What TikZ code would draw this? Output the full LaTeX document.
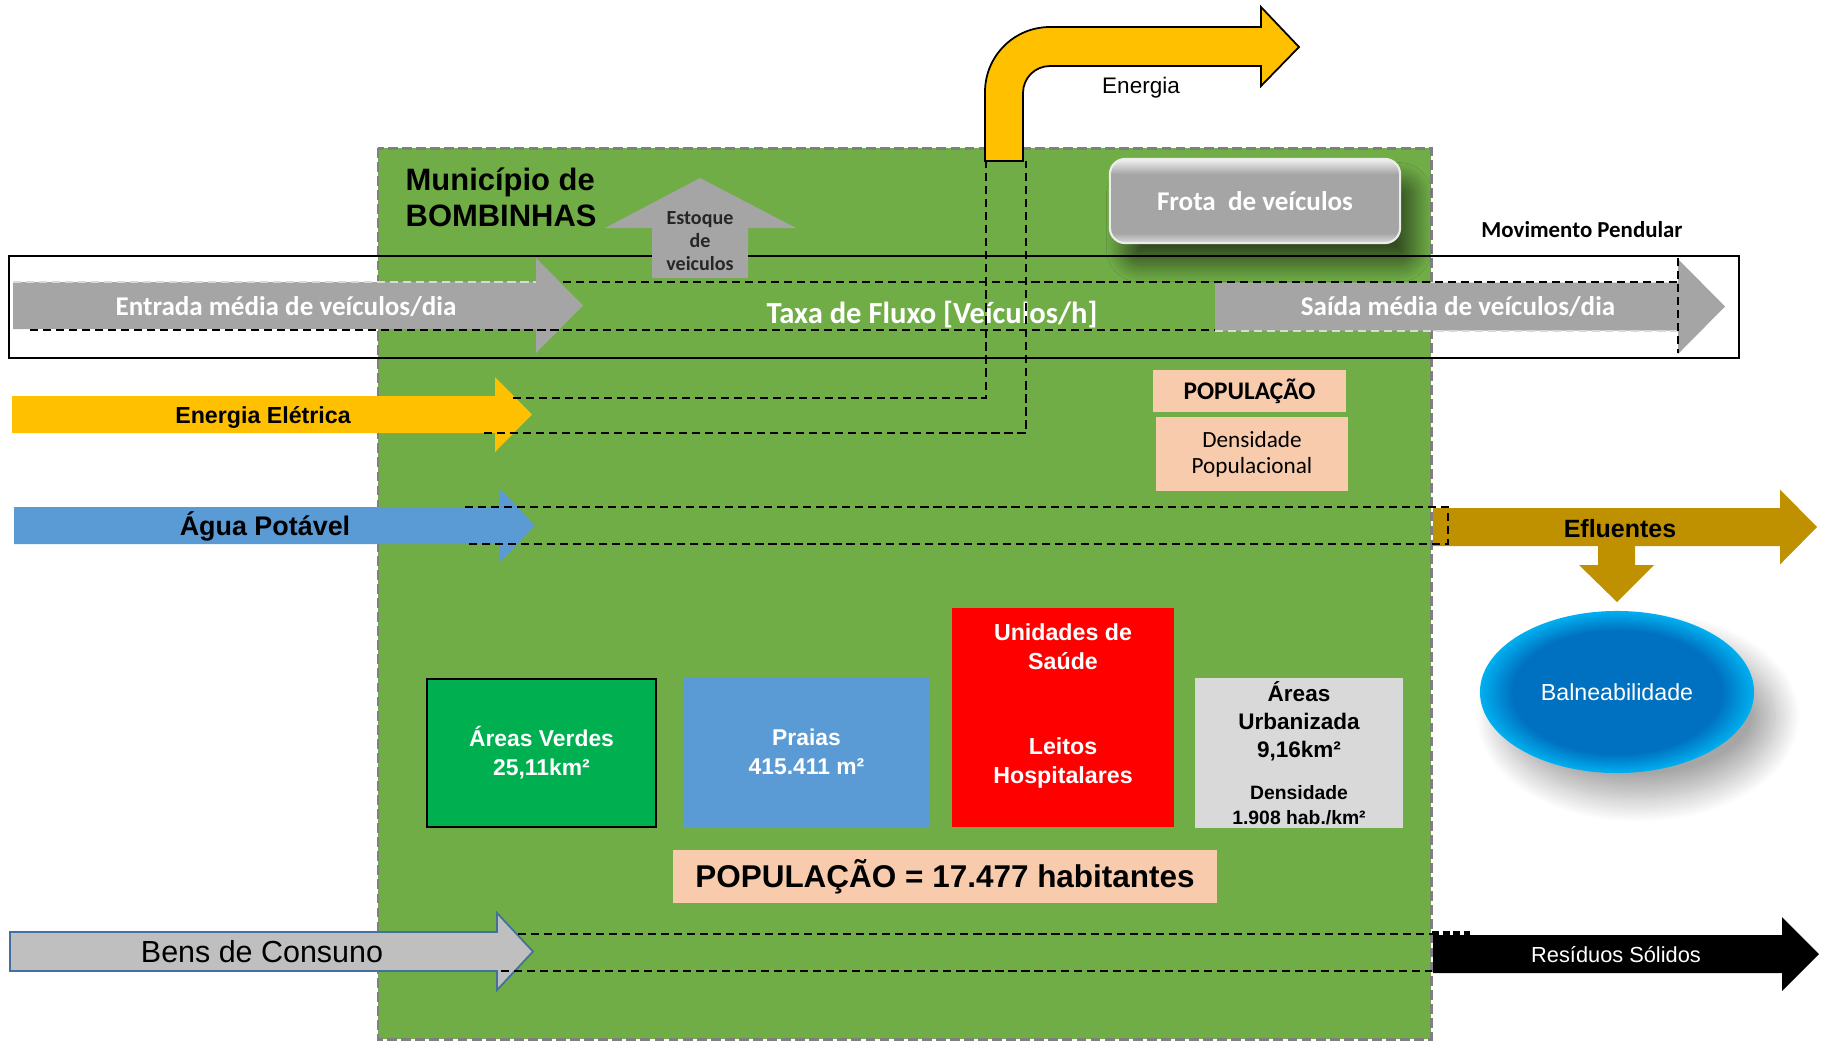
\documentclass[tikz,border=0pt]{standalone}
\usepackage{fontspec}
\setmainfont{Liberation Sans}
\newfontfamily\calibri{Carlito}
\usetikzlibrary{shapes.geometric, shadows.blur}

\definecolor{verde}{HTML}{70AD47}
\definecolor{cinza}{HTML}{A5A5A5}
\definecolor{cinzaborda}{HTML}{7F7F7F}
\definecolor{cinzacl}{HTML}{D9D9D9}
\definecolor{amarelo}{HTML}{FFC000}
\definecolor{azul}{HTML}{5B9BD5}
\definecolor{azulesc}{HTML}{0070C0}
\definecolor{azulcl}{HTML}{00B0F0}
\definecolor{ouro}{HTML}{BF9000}
\definecolor{pele}{HTML}{F8CBAD}
\definecolor{verdeesc}{HTML}{00B050}
\definecolor{bens}{HTML}{BFBFBF}
\definecolor{bensborda}{HTML}{41719C}

\pgfdeclareverticalshading{frotashade}{100bp}{color(0bp)=(gray!30); color(25bp)=(gray!30);
    color(31bp)=(cinza); color(66bp)=(cinza); color(75bp)=(gray!10); color(100bp)=(gray!10)}
\pgfdeclareradialshading{balshade}{\pgfpoint{0bp}{0bp}}{color(0bp)=(azulesc); color(19bp)=(azulesc);
    color(25bp)=(azulcl); color(50bp)=(azulcl)}

\newcommand{\tam}[2]{\fontsize{#1pt}{#2pt}\selectfont}
% seta cheia: estilo, x inicio, x base da ponta, x ponta, y centro, meia haste, meia ponta
\newcommand{\seta}[7]{%
    \path[#1] (#2,#5-#6) -- (#3,#5-#6) -- (#3,#5-#7) -- (#4,#5)
        -- (#3,#5+#7) -- (#3,#5+#6) -- (#2,#5+#6) -- cycle;}

\tikzset{
    rotulo/.style={inner sep=0pt, anchor=base},
    bloco/.style={inner sep=0pt, align=center},
    caixa/.style={inner sep=0pt, align=center},
    tracejado/.style={draw=black, line width=.55pt, dash pattern=on 2.3pt off 1.4pt},
    claro/.style={tracejado, draw=white!70!gray}
}

\begin{document}
\begin{tikzpicture}[x=0.01cm, y=-0.01cm]
        \useasboundingbox (0,0) rectangle (1827,1041);

        % municipio e movimento pendular
        \draw[fill=verde, draw=cinzaborda, line width=.85pt, dash pattern=on 2.8pt off 1.2pt]
            (378,148) rectangle (1431,1039);
        \draw[line width=.8pt] (9,256) rectangle (1739,358);

        \node (frota) [caixa, minimum width=2.9cm, minimum height=.84cm, rounded corners=4.3pt,
            shade, shading=frotashade, draw=gray!15, line width=.6pt,
            blur shadow={shadow xshift=4pt, shadow yshift=-6pt, shadow blur radius=5pt,
                shadow blur steps=20, shadow opacity=55},
            text=white, font=\calibri\bfseries\tam{7.7}{9}] at (1255,201) {Frota~ de veículos};

        % setas
        \seta{fill=cinza}{13}{536}{583}{305.5}{23.5}{47.5}
        \seta{fill=cinza}{1215}{1678}{1725}{306.5}{24}{47.5}
        \seta{fill=amarelo}{12}{495}{532}{414.5}{18.5}{37.5}
        \seta{fill=azul}{14}{499}{535}{525.5}{18.5}{37.5}
        \seta{fill=ouro}{1433}{1780}{1817}{527}{19}{37.5}
        \path[fill=ouro] (1598,540) -- (1635,540) -- (1635,565) -- (1654,565) -- (1617,602)
            -- (1579,565) -- (1598,565) -- cycle;
        \seta{fill=black}{1433}{1782}{1819}{954}{19}{37}
        \seta{fill=bens, draw=bensborda, line width=.5pt}{10}{497}{533}{951.5}{19.5}{38.5}
        \path[fill=cinza] (652,278) -- (652,228) -- (605,228) -- (700,178) -- (796,228)
            -- (748,228) -- (748,278) -- cycle;

        \node (entrada) [rotulo, text=white, font=\calibri\bfseries\tam{7.7}{9}] at (286,315) {Entrada média de veículos/dia};
        \node (saida) [rotulo, text=white, font=\calibri\bfseries\tam{7.7}{9}] at (1458,315) {Saída média de veículos/dia};
        \node (taxa) [rotulo, text=white, font=\calibri\bfseries\tam{8.7}{10}] at (932,323) {Taxa de Fluxo [Veículos/h]};
        \node (movimento) [rotulo, font=\calibri\bfseries\tam{6.5}{8}] at (1582,237) {Movimento Pendular};
        \node (eletrica) [rotulo, font=\bfseries\tam{6.6}{8}] at (263,423) {Energia Elétrica};
        \node (agua) [rotulo, font=\bfseries\tam{7.65}{9}] at (265,535) {Água Potável};
        \node (efluentes) [rotulo, font=\bfseries\tam{7.1}{8}] at (1620,537) {Efluentes};
        \node (residuos) [rotulo, text=white, font=\tam{6.2}{7}] at (1616,962) {Resíduos Sólidos};
        \node (bens) [rotulo, font=\tam{8.66}{10}] at (262,962) {Bens de Consuno};
        \node (estoque) [bloco, text=black!85, font=\calibri\bfseries\tam{5.7}{6.5}] at (700,241) {Estoque\\de\\veiculos};
        \node (municipio) [bloco, align=left, anchor=west, font=\bfseries\tam{8.8}{10.2}] at (405,197) {Município de\\BOMBINHAS};

        % tubos tracejados
        \draw[tracejado] (563,282) -- (1678,282);
        \draw[tracejado] (30,330) -- (1215,330);
        \draw[claro] (1215,331) -- (1678,331);
        \draw[claro] (13,282) -- (536,282);
        \draw[tracejado] (1678,258) -- (1678,353);
        \draw[tracejado] (513,398) -- (986,398) -- (986,161);
        \draw[tracejado] (484,433) -- (1026,433) -- (1026,161);
        \draw[tracejado] (465,507) -- (1448,507) -- (1448,544) -- (469,544);
        \draw[tracejado] (518,934) -- (1432,934);
        \draw[tracejado] (501,971) -- (1432,971);
        \draw[line width=1pt, dash pattern=on 2pt off 1pt] (1432,933) -- (1470,933);

        % energia que sai
        \draw[fill=amarelo, line width=.5pt] (985,161) -- (985,92) .. controls (985,56) and (1014,27) .. (1050,27)
            -- (1261,27) -- (1261,7) -- (1299,47) -- (1261,86) -- (1261,66) -- (1050,66)
            .. controls (1035,66) and (1023,78) .. (1023,93) -- (1023,161) -- cycle;
        \node (energia) [rotulo, font=\tam{6.4}{8}] at (1141,93) {Energia};

        % caixas
        \node (pop) [caixa, fill=pele, minimum width=1.93cm, minimum height=.42cm,
            font=\calibri\bfseries\tam{7.2}{8}] at (1249.5,391) {POPULAÇÃO};
        \node (densidade) [caixa, fill=pele, minimum width=1.92cm, minimum height=.74cm,
            font=\calibri\tam{6.6}{7.4}] at (1252,454) {Densidade\\Populacional};
        \node (verdes) [caixa, fill=verdeesc, draw=black, line width=.6pt, minimum width=2.29cm, minimum height=1.48cm,
            text=white, font=\bfseries\tam{6.5}{8.25}] at (541.5,753) {Áreas Verdes\\25,11km²};
        \node (praias) [caixa, fill=azul, minimum width=2.47cm, minimum height=1.5cm,
            text=white, font=\bfseries\tam{6.5}{8.25}] at (806.5,752) {Praias\\415.411 m²};
        \node (saude) [caixa, fill=red, minimum width=2.22cm, minimum height=2.19cm] at (1063,717.5) {};
        \node (unidades) [bloco, text=white, font=\bfseries\tam{6.6}{8.25}] at (1063,647) {Unidades de\\Saúde};
        \node (leitos) [bloco, text=white, font=\bfseries\tam{6.6}{8.25}] at (1063,763) {Leitos\\Hospitalares};
        \node (urbana) [caixa, fill=cinzacl, minimum width=2.08cm, minimum height=1.5cm] at (1299,753) {};
        \node (areas) [bloco, font=\bfseries\tam{6.4}{8}] at (1299,721) {Áreas\\Urbanizada\\9,16km²};
        \node (densurb) [bloco, font=\bfseries\tam{5.5}{7}] at (1299,805) {Densidade\\1.908 hab./km²};
        \node (poptotal) [caixa, fill=pele, minimum width=5.44cm, minimum height=.53cm,
            font=\bfseries\tam{8.95}{10}] at (945,876.5) {POPULAÇÃO = 17.477 habitantes};
        \node (balne) [ellipse, inner sep=0pt, minimum width=2.74cm, minimum height=1.62cm,
            shade, shading=balshade,
            blur shadow={shadow xshift=6pt, shadow yshift=-7pt, shadow blur radius=7pt,
                shadow blur steps=30, shadow opacity=35},
            text=white, font=\tam{6.6}{8}] at (1617,692) {Balneabilidade};
\end{tikzpicture}
\end{document}
